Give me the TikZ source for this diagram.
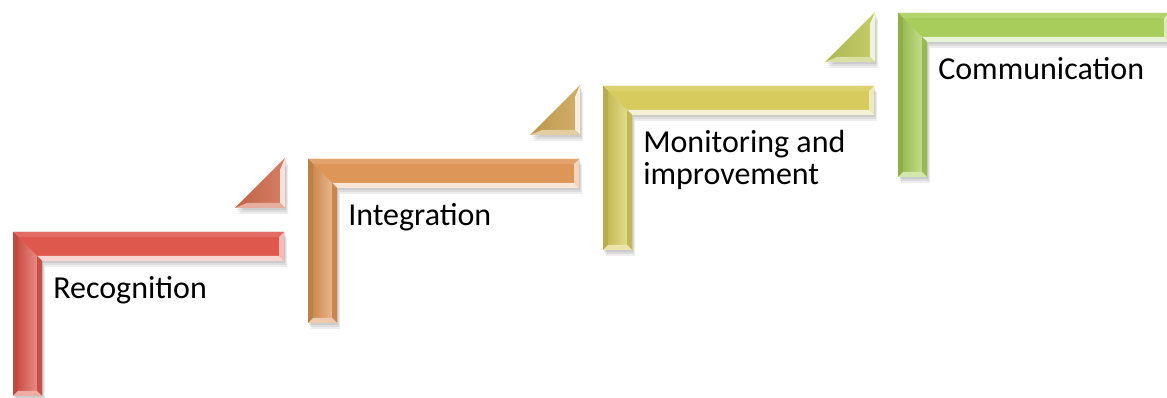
\documentclass[tikz,border=0pt]{standalone}
\usepackage{fontspec}
\setmainfont{Carlito}
\definecolor{recog}{RGB}{222,88,78}
\definecolor{integ}{RGB}{222,150,88}
\definecolor{monit}{RGB}{214,203,92}
\definecolor{commu}{RGB}{168,205,90}
\definecolor{triA}{RGB}{208,108,78}
\definecolor{triB}{RGB}{204,164,84}
\definecolor{triC}{RGB}{188,198,86}
\begin{document}
\begin{tikzpicture}[x=0.75pt,y=-0.75pt,line join=round,
	steptext/.style={font=\fontsize{24}{24}\selectfont,anchor=base west,inner sep=0pt,align=left},
	shadow/.style={fill=black,opacity=0.07}]
	\useasboundingbox (0,0) rectangle (1167,398);
	\foreach \i/\c/\t/\s in {0/recog/Recognition/0,1/integ/Integration/0,2/monit/{Monitoring and\\improvement}/32,3/commu/Communication/0}{
		\begin{scope}[shift={(13+295*\i,232-73*\i)}]
			\foreach \d in {2,4,6}
				\fill[shadow] (\d/2,\d) -- (271+\d/2,\d) -- (271+\d/2,29+\d) -- (29+\d/2,29+\d) -- (29+\d/2,164+\d) -- (\d/2,164+\d) -- cycle;
			\fill[\c] (0,0) -- (271,0) -- (271,29) -- (29,29) -- (29,164) -- (0,164) -- cycle;
			\fill[\c!88!white] (0,0) -- (271,0) -- (266,5) -- (5,5) -- cycle;
			\fill[\c!85!black] (0,0) -- (5,5) -- (5,159) -- (0,164) -- cycle;
			\shade[left color=\c!92!black,right color=\c!70!white] (5,5) -- (24,24) -- (24,159) -- (5,159) -- cycle;
			\fill[\c!40!white] (271,0) -- (271,29) -- (266,24) -- (266,5) -- cycle;
			\fill[\c!25!white] (29,29) -- (271,29) -- (266,24) -- (24,24) -- cycle;
			\fill[\c!90!black] (29,29) -- (24,24) -- (24,159) -- (29,164) -- cycle;
			\fill[\c!50!white] (0,164) -- (5,159) -- (24,159) -- (29,164) -- cycle;
			\node[steptext] (txt\i) at (40,67+\s) {\t};
		\end{scope}
	}
	\foreach \i/\c in {0/triA,1/triB,2/triC}{
		\begin{scope}[shift={(13+295*\i,232-73*\i)}]
			\foreach \d in {2,4,6}
				\fill[shadow] (222+\d/2,-24+\d) -- (272+\d/2,-24+\d) -- (272+\d/2,-74+\d) -- cycle;
			\shade[left color=\c!92!black,right color=\c!88!white] (222,-24) -- (272,-24) -- (272,-74) -- cycle;
			\fill[\c!20!white] (272,-74) -- (272,-24) -- (267,-29) -- (267,-62) -- cycle;
			\fill[\c!55!white] (222,-24) -- (272,-24) -- (267,-29) -- (234,-29) -- cycle;
		\end{scope}
	}
\end{tikzpicture}
\end{document}
